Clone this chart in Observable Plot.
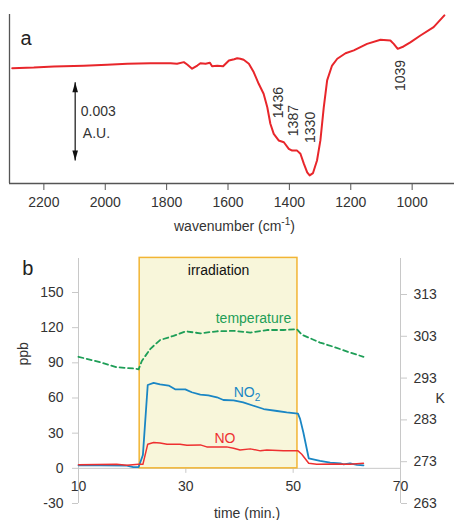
<!DOCTYPE html>
<html><head><meta charset="utf-8">
<script src="https://cdn.jsdelivr.net/npm/d3@7"></script>
<script src="https://cdn.jsdelivr.net/npm/@observablehq/plot@0.6"></script>
<style>
body{margin:0;background:#fff;}
#chart{width:454px;}
#chart svg{display:block;}
</style></head><body><div id="chart"></div>
<script>
const FONT = "'Liberation Sans', Arial, Helvetica, sans-serif";

// ---------- Panel a : IR difference spectrum ----------
const wavenumber = [2303,2233,2167,2070,1994,1928,1853,1787,1766,1744,1733,1717,1700,1690,1673,1659,1652,1635,1616,1597,1580,1570,1560,1549,1532,1516,1500,1484,1472,1462,1451,1435,1418,1402,1391,1375,1364,1353,1342,1334,1323,1310,1299,1288,1277,1261,1244,1217,1190,1147,1103,1071,1060,1047,1028,1006,973,930,895];
const absorbance = [4.42,4.44,4.48,4.51,4.55,4.59,4.61,4.61,4.59,4.65,4.56,4.40,4.52,4.61,4.59,4.63,4.49,4.51,4.49,4.71,4.76,4.80,4.78,4.74,4.59,4.26,3.82,3.44,2.92,2.29,1.90,1.65,1.58,1.33,1.26,1.26,1.14,0.76,0.43,0.31,0.40,0.88,1.65,2.92,3.95,4.52,4.78,4.99,5.10,5.35,5.51,5.48,5.35,5.16,5.25,5.41,5.67,5.99,6.44]; // mA.U.
const xTicksA = [2200,2000,1800,1600,1400,1200,1000];
const peakNames = ["1436","1387","1330","1039"];
const peakX = [1436,1387,1330,1039];
const peakY = [3.10,2.41,2.15,4.14];
const scaleBar = {x: 2098, from: 0.88, to: 3.88};

// ---------- Panel b : time series ----------
const timeTicks = [10,30,50,70];
const ppbTicks = [-30,0,30,60,90,120,150];
const kTicks = [263,273,283,293,303,313];
const irradiation = {start: 21.4, end: 50.8};

const tempTime = [10,14.0,17.1,20.2,21.2,21.8,23.4,25.2,27.7,30,32.7,35.8,38.9,42.0,45.1,48.2,50.7,51.6,55.0,57.5,60.6,63.1];
const tempK = [298.1,296.8,295.6,295.3,295.1,297.1,300.0,302.1,303.1,304.2,303.7,304.2,304.3,303.9,304.5,304.5,304.7,303.4,301.5,300.5,299.1,298.1];

const no2Time = [10,14.0,19.0,20.2,21.2,22.0,22.9,24.0,25.2,26.8,28.0,29.9,31.1,32.7,34.2,35.8,37.0,38.9,40.7,42.6,44.5,47.0,48.8,50.9,51.3,51.9,52.9,55.0,56.9,58.8,59.4,60.6,61.9,63.1];
const no2Ppb = [2.6,2.6,2.3,1.1,1.1,11.4,71.1,72.9,71.7,70.6,67.4,67.4,64.9,62.9,62.3,60.6,58.3,58.0,56.3,53.4,50.6,48.9,47.7,46.6,42.0,30.6,8.6,6.3,4.9,4.3,3.4,4.3,2.9,2.6];

const noTime = [10,17.1,19.0,21.2,22.0,22.9,24.0,25.2,26.5,28.9,30.2,32.7,33.9,37.6,38.9,40.1,42.0,43.9,45.1,48.2,50.9,51.6,52.9,54.4,57.5,60.6,63.1];
const noPpb = [3.1,3.4,2.6,3.4,3.4,20.6,22.0,21.7,20.6,20.6,19.7,20.0,18.3,18.3,17.1,15.7,16.6,14.9,15.7,14.9,14.9,12.0,4.3,3.4,3.7,3.4,4.3];

const kToPpb = k => -30 + (k - 263) * 3.566;
const ppbToK = p => 263 + (p + 30) / 3.566;

const spectrum = wavenumber.map((w, i) => ({w, a: absorbance[i]}));
const peaks = peakNames.map((t, i) => ({t, x: peakX[i], y: peakY[i]}));
const temp = tempTime.map((t, i) => ({t, v: kToPpb(tempK[i])}));
const no2 = no2Time.map((t, i) => ({t, v: no2Ppb[i]}));
const no = noTime.map((t, i) => ({t, v: noPpb[i]}));

const txt = {fontFamily: FONT, fontSize: 14, fill: "#333"};

// narrow filled arrowhead symbol (tip at top)
const arrowHead = {
  draw(context) {
    context.moveTo(0, -5);
    context.lineTo(2.8, 5);
    context.lineTo(-2.8, 5);
    context.closePath();
  }
};

const plotA = Plot.plot({
  width: 454, height: 240,
  marginLeft: 9, marginRight: 0, marginTop: 14, marginBottom: 57,
  style: {fontFamily: FONT, fontSize: "14px", color: "#333", background: "#fff", overflow: "visible"},
  x: {domain: [2312, 862], axis: null},
  y: {domain: [0, 6.475], axis: null},
  marks: [
    Plot.axisX(xTicksA, {anchor: "bottom", tickSize: 7, tickPadding: 6.5, stroke: "#555", fill: "#333", fontSize: 14, tickFormat: d => String(d), label: null}),
    Plot.ruleX([2312], {stroke: "#555", strokeWidth: 1.3}),
    Plot.ruleY([0], {stroke: "#555", strokeWidth: 1.3}),
    Plot.line(spectrum, {x: "w", y: "a", stroke: "#e8262b", strokeWidth: 2}),
    Plot.text(peaks, {x: "x", y: "y", text: "t", rotate: -90, ...txt}),
    Plot.link([scaleBar], {x1: "x", x2: "x", y1: "from", y2: "to", stroke: "#111", strokeWidth: 1.2, insetTop: 4, insetBottom: 4}),
    Plot.dot([scaleBar], {x: "x", y: "to", symbol: arrowHead, r: 5, dy: 5, fill: "#111", stroke: "none"}),
    Plot.dot([scaleBar], {x: "x", y: "from", symbol: arrowHead, r: 5, dy: -5, rotate: 180, fill: "#111", stroke: "none"}),
    Plot.text(["0.003"], {x: 2080, y: 2.75, text: d => d, textAnchor: "start", ...txt}),
    Plot.text(["A.U."], {x: 2073, y: 1.91, text: d => d, textAnchor: "start", ...txt}),
    Plot.text(["a"], {x: 2276, y: 5.57, text: d => d, textAnchor: "start", fontFamily: FONT, fontSize: 20, fill: "#222"}),
    Plot.text(["wavenumber (cm-1)"], {x: 1579, y: -1.667, text: d => d, ...txt})
  ]
});

const plotB = Plot.plot({
  width: 454, height: 280,
  marginLeft: 78, marginRight: 54, marginTop: 18, marginBottom: 17,
  style: {fontFamily: FONT, fontSize: "14px", color: "#333", background: "#fff", overflow: "visible"},
  x: {domain: [10, 70], axis: null},
  y: {domain: [-30, 179], axis: null},
  marks: [
    Plot.ruleX([10], {stroke: "#c8c8c8"}),
    Plot.ruleX([70], {stroke: "#c8c8c8"}),
    Plot.ruleY([0], {x1: 10, x2: 70, stroke: "#c8c8c8"}),
    Plot.axisY(ppbTicks, {anchor: "left", tickSize: 6, tickPadding: 9, stroke: "#c8c8c8", fill: "#333", fontSize: 14, tickFormat: d => String(d), label: null}),
    Plot.axisY(kTicks.map(kToPpb), {anchor: "right", tickSize: 6, tickPadding: 7, stroke: "#c8c8c8", fill: "#333", fontSize: 14, tickFormat: p => String(Math.round(ppbToK(p))), label: null}),
    Plot.ruleX(timeTicks, {x: d => d, y1: 0, y2: -4.3, stroke: "#c8c8c8"}),
    Plot.text(timeTicks, {x: d => d, y: 0, dy: 13, lineAnchor: "top", text: d => String(d), ...txt}),
    Plot.rect([irradiation], {x1: "start", x2: "end", y1: 0, y2: 179.5, fill: "#f8f6da", stroke: "#f2b534", strokeWidth: 1.5}),
    Plot.line(temp, {x: "t", y: "v", stroke: "#1e9e57", strokeWidth: 1.8, strokeDasharray: "5,3.5"}),
    Plot.line(no2, {x: "t", y: "v", stroke: "#1a86c4", strokeWidth: 1.8}),
    Plot.line(no, {x: "t", y: "v", stroke: "#ee3030", strokeWidth: 1.5}),
    Plot.text(["irradiation"], {x: 36.1, y: 168.5, text: d => d, fontFamily: FONT, fontSize: 14, fill: "#111"}),
    Plot.text(["temperature"], {x: 42.6, y: 127.6, text: d => d, fontFamily: FONT, fontSize: 14, fill: "#1e9e57"}),
    Plot.text(["NO2"], {x: 41.4, y: 64.5, text: d => d, fontFamily: FONT, fontSize: 14, fill: "#1a86c4"}),
    Plot.text(["NO"], {x: 37.3, y: 25.6, text: d => d, fontFamily: FONT, fontSize: 14, fill: "#ee3030"}),
    Plot.text(["ppb"], {x: -0.3, y: 97.7, text: d => d, rotate: -90, ...txt}),
    Plot.text(["K"], {x: 77.4, y: 59.6, text: d => d, ...txt}),
    Plot.text(["time (min.)"], {x: 41.4, y: -38.5, text: d => d, ...txt}),
    Plot.text(["b"], {x: -0.5, y: 170.6, text: d => d, textAnchor: "start", fontFamily: FONT, fontSize: 20, fill: "#222"})
  ]
});

const chart = document.getElementById("chart");
chart.appendChild(plotA);
chart.appendChild(plotB);

d3.select(plotA).selectAll("text").filter(function () { return this.textContent === "wavenumber (cm-1)"; })
  .html('wavenumber (cm<tspan dy="-6" font-size="10">-1</tspan><tspan dy="6">)</tspan>');
d3.select(plotB).selectAll("text").filter(function () { return this.textContent === "NO2"; })
  .html('NO<tspan dy="4" font-size="10">2</tspan>');
</script></body></html>
